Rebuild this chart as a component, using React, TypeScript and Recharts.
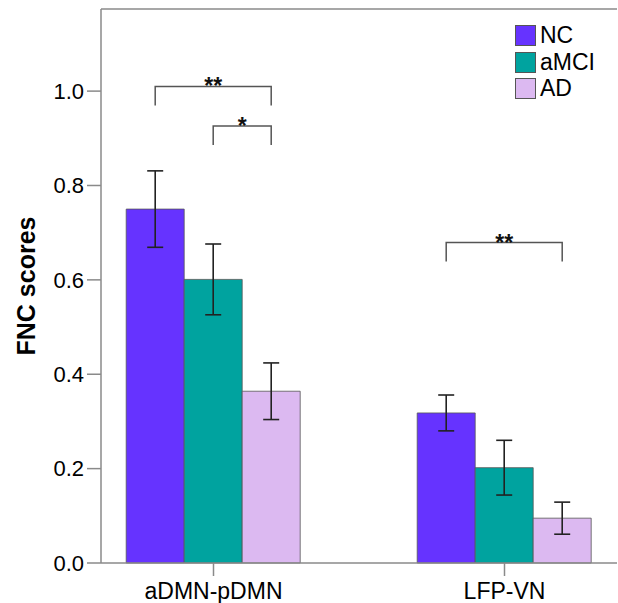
import { Bar, BarChart, ErrorBar, Legend, Rectangle, ReferenceLine, XAxis, YAxis } from 'recharts';

const CATEGORIES = ['aDMN-pDMN', 'LFP-VN'];
const NC = [0.75, 0.318];
const NC_ERR = [0.081, 0.038];
const AMCI = [0.601, 0.202];
const AMCI_ERR = [0.075, 0.058];
const AD = [0.364, 0.095];
const AD_ERR = [0.06, 0.034];
const Y_TICKS = [0, 0.2, 0.4, 0.6, 0.8, 1.0];
const Y_MAX = 1.174;

// significance brackets, bar index 0 = NC, 1 = aMCI, 2 = AD
const SIG_CATEGORY = ['aDMN-pDMN', 'aDMN-pDMN', 'LFP-VN'];
const SIG_FROM = [0, 1, 0];
const SIG_TO = [2, 2, 2];
const SIG_LEVEL = [1.01, 0.926, 0.679];
const SIG_LABEL = ['**', '*', '**'];

const SERIES = [
  { key: 'nc', err: 'ncErr', name: 'NC', color: '#6633ff' },
  { key: 'amci', err: 'amciErr', name: 'aMCI', color: '#00a39f' },
  { key: 'ad', err: 'adErr', name: 'AD', color: '#dcb9f1' },
];

const FONT = '"Liberation Sans", Arial, sans-serif';
const AXIS = '#8a8a8a';

const data = CATEGORIES.map((name, i) => ({
  name,
  nc: NC[i],
  ncErr: NC_ERR[i],
  amci: AMCI[i],
  amciErr: AMCI_ERR[i],
  ad: AD[i],
  adErr: AD_ERR[i],
}));

// last bar of each group also draws the brackets above the group
function AdShape(props: any) {
  const { x, y, width, height, payload, fill } = props;
  const scale = height / payload.ad;
  const base = y + height;
  const adCenter = x + width / 2;
  return (
    <g>
      <Rectangle x={x} y={y} width={width} height={height} fill={fill} stroke="#555" strokeWidth={0.8} />
      {SIG_CATEGORY.map((cat, i) => {
        if (cat !== payload.name) return null;
        const x1 = adCenter - (2 - SIG_FROM[i]) * width;
        const x2 = adCenter - (2 - SIG_TO[i]) * width;
        const yy = base - SIG_LEVEL[i] * scale;
        return (
          <g key={i}>
            <path
              d={`M${x1},${yy + 19}V${yy}H${x2}V${yy + 19}`}
              fill="none"
              stroke="#555"
              strokeWidth={1.5}
            />
            <text
              x={(x1 + x2) / 2}
              y={yy + 8}
              textAnchor="middle"
              fontSize={23}
              fontWeight="bold"
              fontFamily={FONT}
              fill="#111"
            >
              {SIG_LABEL[i]}
            </text>
          </g>
        );
      })}
    </g>
  );
}

function LegendBox() {
  return (
    <div style={{ display: 'flex', flexDirection: 'column', gap: 5.7, fontFamily: FONT }}>
      {SERIES.map((s) => (
        <div key={s.key} style={{ display: 'flex', alignItems: 'center', height: 21 }}>
          <span
            style={{
              width: 21,
              height: 21,
              background: s.color,
              border: '1px solid #555',
              boxSizing: 'border-box',
            }}
          />
          <span style={{ marginLeft: 4, fontSize: 23, lineHeight: '21px', color: '#000' }}>{s.name}</span>
        </div>
      ))}
    </div>
  );
}

export default function App() {
  return (
    <div style={{ position: 'absolute', left: 0, top: 0, background: '#fff' }}>
      <BarChart
        width={618}
        height={603}
        data={data}
        margin={{ top: 9, right: 1, bottom: 0, left: 0 }}
        barCategoryGap="20%"
        barGap={0}
      >
        <XAxis
          dataKey="name"
          padding={{ left: -33, right: -33 }}
          height={40}
          tickSize={13}
          tickMargin={7}
          axisLine={{ stroke: AXIS, strokeWidth: 1.5 }}
          tickLine={{ stroke: AXIS, strokeWidth: 1.5 }}
          tick={{ fill: '#000', fontSize: 23, fontFamily: FONT }}
        />
        <YAxis
          width={101}
          domain={[0, Y_MAX]}
          ticks={Y_TICKS}
          tickFormatter={(v: number) => v.toFixed(1)}
          tickSize={14}
          tickMargin={3}
          axisLine={{ stroke: AXIS, strokeWidth: 1.5 }}
          tickLine={{ stroke: AXIS, strokeWidth: 1.5 }}
          tick={{ fill: '#000', fontSize: 22, fontFamily: FONT }}
          label={{
            value: 'FNC scores',
            angle: -90,
            position: 'insideLeft',
            offset: 26,
            style: { textAnchor: 'middle', fontSize: 25, fontWeight: 'bold', fill: '#000', fontFamily: FONT },
          }}
        />
        <ReferenceLine y={Y_MAX} stroke={AXIS} strokeWidth={1.5} />
        <Legend
          layout="vertical"
          align="center"
          verticalAlign="middle"
          content={() => <LegendBox />}
          wrapperStyle={{ left: 515, top: 25, width: 100, height: 80 }}
        />
        {SERIES.map((s) => (
          <Bar
            key={s.key}
            dataKey={s.key}
            name={s.name}
            fill={s.color}
            stroke="#555"
            strokeWidth={0.8}
            isAnimationActive={false}
            shape={s.key === 'ad' ? AdShape : undefined}
          >
            <ErrorBar dataKey={s.err} width={8} stroke="#222" strokeWidth={1.6} direction="y" isAnimationActive={false} />
          </Bar>
        ))}
      </BarChart>
    </div>
  );
}
